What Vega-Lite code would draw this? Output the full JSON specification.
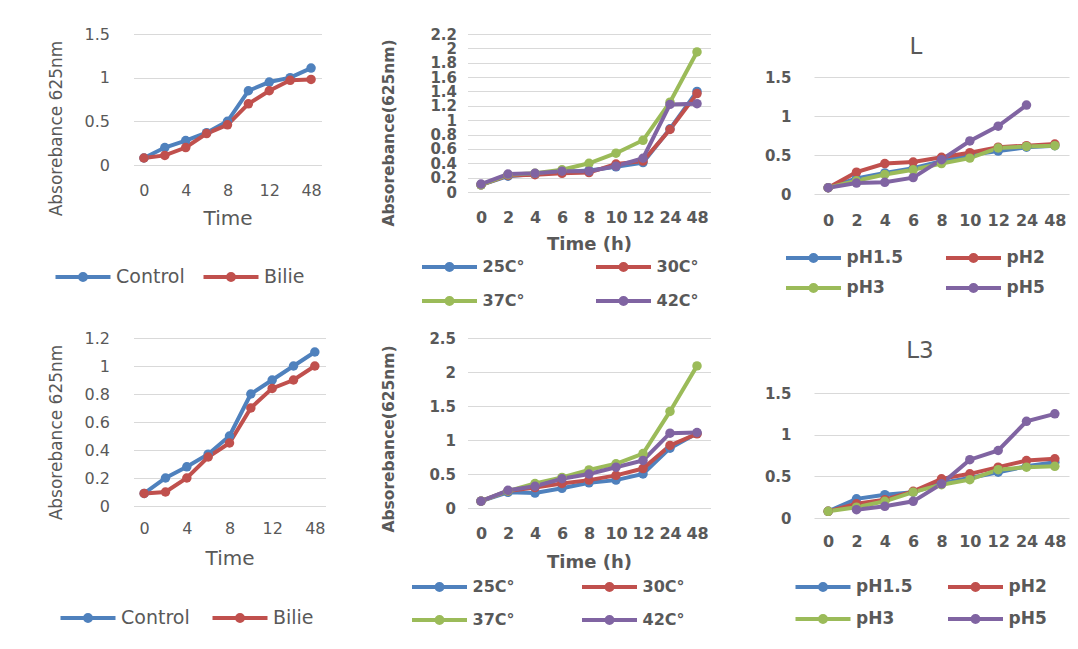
{
  "$schema": "https://vega.github.io/schema/vega-lite/v6.json",
  "padding": {"left": 46.5, "top": 26, "right": 0, "bottom": 0},
  "background": "white",
  "config": {
    "font": "DejaVu Sans",
    "view": {"stroke": null},
    "axis": {"domain": false, "ticks": false, "grid": false, "labelOverlap": false, "labelColor": "#595959", "titleColor": "#595959", "labelFont": "DejaVu Sans", "titleFont": "DejaVu Sans"},
    "axisY": {"grid": true, "gridColor": "#D9D9D9", "gridWidth": 1},
    "legend": {"padding": 0, "labelColor": "#595959", "labelFont": "DejaVu Sans", "symbolStrokeWidth": 4, "symbolSize": 400, "symbolType": "M -2.75 0 L 2.75 0 M -0.3 0 A 0.3 0.3 0 1 0 0.3 0 A 0.3 0.3 0 1 0 -0.3 0 M -0.1 0 A 0.1 0.1 0 1 0 0.1 0 A 0.1 0.1 0 1 0 -0.1 0", "labelOffset": 21}
  },
  "datasets": {
    "ctrlA": [
      {"t": "0", "s": "Control", "v": 0.08}, {"t": "2", "s": "Control", "v": 0.2}, {"t": "4", "s": "Control", "v": 0.28}, {"t": "6", "s": "Control", "v": 0.37}, {"t": "8", "s": "Control", "v": 0.5}, {"t": "10", "s": "Control", "v": 0.85}, {"t": "12", "s": "Control", "v": 0.95}, {"t": "24", "s": "Control", "v": 1.0}, {"t": "48", "s": "Control", "v": 1.11},
      {"t": "0", "s": "Bilie", "v": 0.08}, {"t": "2", "s": "Bilie", "v": 0.11}, {"t": "4", "s": "Bilie", "v": 0.2}, {"t": "6", "s": "Bilie", "v": 0.36}, {"t": "8", "s": "Bilie", "v": 0.46}, {"t": "10", "s": "Bilie", "v": 0.7}, {"t": "12", "s": "Bilie", "v": 0.85}, {"t": "24", "s": "Bilie", "v": 0.97}, {"t": "48", "s": "Bilie", "v": 0.98}
    ],
    "ctrlB": [
      {"t": "0", "s": "Control", "v": 0.09}, {"t": "2", "s": "Control", "v": 0.2}, {"t": "4", "s": "Control", "v": 0.28}, {"t": "6", "s": "Control", "v": 0.37}, {"t": "8", "s": "Control", "v": 0.5}, {"t": "10", "s": "Control", "v": 0.8}, {"t": "12", "s": "Control", "v": 0.9}, {"t": "24", "s": "Control", "v": 1.0}, {"t": "48", "s": "Control", "v": 1.1},
      {"t": "0", "s": "Bilie", "v": 0.09}, {"t": "2", "s": "Bilie", "v": 0.1}, {"t": "4", "s": "Bilie", "v": 0.2}, {"t": "6", "s": "Bilie", "v": 0.35}, {"t": "8", "s": "Bilie", "v": 0.45}, {"t": "10", "s": "Bilie", "v": 0.7}, {"t": "12", "s": "Bilie", "v": 0.84}, {"t": "24", "s": "Bilie", "v": 0.9}, {"t": "48", "s": "Bilie", "v": 1.0}
    ],
    "tempA": [
      {"t": "0", "s": "25C°", "v": 0.1}, {"t": "2", "s": "25C°", "v": 0.22}, {"t": "4", "s": "25C°", "v": 0.25}, {"t": "6", "s": "25C°", "v": 0.28}, {"t": "8", "s": "25C°", "v": 0.3}, {"t": "10", "s": "25C°", "v": 0.35}, {"t": "12", "s": "25C°", "v": 0.41}, {"t": "24", "s": "25C°", "v": 0.88}, {"t": "48", "s": "25C°", "v": 1.4},
      {"t": "0", "s": "30C°", "v": 0.1}, {"t": "2", "s": "30C°", "v": 0.23}, {"t": "4", "s": "30C°", "v": 0.24}, {"t": "6", "s": "30C°", "v": 0.26}, {"t": "8", "s": "30C°", "v": 0.27}, {"t": "10", "s": "30C°", "v": 0.39}, {"t": "12", "s": "30C°", "v": 0.43}, {"t": "24", "s": "30C°", "v": 0.87}, {"t": "48", "s": "30C°", "v": 1.37},
      {"t": "0", "s": "37C°", "v": 0.1}, {"t": "2", "s": "37C°", "v": 0.24}, {"t": "4", "s": "37C°", "v": 0.26}, {"t": "6", "s": "37C°", "v": 0.31}, {"t": "8", "s": "37C°", "v": 0.4}, {"t": "10", "s": "37C°", "v": 0.54}, {"t": "12", "s": "37C°", "v": 0.72}, {"t": "24", "s": "37C°", "v": 1.25}, {"t": "48", "s": "37C°", "v": 1.95},
      {"t": "0", "s": "42C°", "v": 0.11}, {"t": "2", "s": "42C°", "v": 0.25}, {"t": "4", "s": "42C°", "v": 0.26}, {"t": "6", "s": "42C°", "v": 0.29}, {"t": "8", "s": "42C°", "v": 0.29}, {"t": "10", "s": "42C°", "v": 0.36}, {"t": "12", "s": "42C°", "v": 0.47}, {"t": "24", "s": "42C°", "v": 1.22}, {"t": "48", "s": "42C°", "v": 1.23}
    ],
    "tempB": [
      {"t": "0", "s": "25C°", "v": 0.1}, {"t": "2", "s": "25C°", "v": 0.23}, {"t": "4", "s": "25C°", "v": 0.22}, {"t": "6", "s": "25C°", "v": 0.29}, {"t": "8", "s": "25C°", "v": 0.37}, {"t": "10", "s": "25C°", "v": 0.41}, {"t": "12", "s": "25C°", "v": 0.5}, {"t": "24", "s": "25C°", "v": 0.88}, {"t": "48", "s": "25C°", "v": 1.1},
      {"t": "0", "s": "30C°", "v": 0.1}, {"t": "2", "s": "30C°", "v": 0.25}, {"t": "4", "s": "30C°", "v": 0.3}, {"t": "6", "s": "30C°", "v": 0.36}, {"t": "8", "s": "30C°", "v": 0.41}, {"t": "10", "s": "30C°", "v": 0.48}, {"t": "12", "s": "30C°", "v": 0.58}, {"t": "24", "s": "30C°", "v": 0.92}, {"t": "48", "s": "30C°", "v": 1.09},
      {"t": "0", "s": "37C°", "v": 0.1}, {"t": "2", "s": "37C°", "v": 0.25}, {"t": "4", "s": "37C°", "v": 0.36}, {"t": "6", "s": "37C°", "v": 0.45}, {"t": "8", "s": "37C°", "v": 0.56}, {"t": "10", "s": "37C°", "v": 0.65}, {"t": "12", "s": "37C°", "v": 0.8}, {"t": "24", "s": "37C°", "v": 1.42}, {"t": "48", "s": "37C°", "v": 2.09},
      {"t": "0", "s": "42C°", "v": 0.1}, {"t": "2", "s": "42C°", "v": 0.26}, {"t": "4", "s": "42C°", "v": 0.32}, {"t": "6", "s": "42C°", "v": 0.43}, {"t": "8", "s": "42C°", "v": 0.5}, {"t": "10", "s": "42C°", "v": 0.6}, {"t": "12", "s": "42C°", "v": 0.7}, {"t": "24", "s": "42C°", "v": 1.1}, {"t": "48", "s": "42C°", "v": 1.11}
    ],
    "phA": [
      {"t": "0", "s": "pH1.5", "v": 0.08}, {"t": "2", "s": "pH1.5", "v": 0.2}, {"t": "4", "s": "pH1.5", "v": 0.27}, {"t": "6", "s": "pH1.5", "v": 0.33}, {"t": "8", "s": "pH1.5", "v": 0.42}, {"t": "10", "s": "pH1.5", "v": 0.5}, {"t": "12", "s": "pH1.5", "v": 0.55}, {"t": "24", "s": "pH1.5", "v": 0.6}, {"t": "48", "s": "pH1.5", "v": 0.62},
      {"t": "0", "s": "pH2", "v": 0.08}, {"t": "2", "s": "pH2", "v": 0.28}, {"t": "4", "s": "pH2", "v": 0.39}, {"t": "6", "s": "pH2", "v": 0.41}, {"t": "8", "s": "pH2", "v": 0.47}, {"t": "10", "s": "pH2", "v": 0.53}, {"t": "12", "s": "pH2", "v": 0.6}, {"t": "24", "s": "pH2", "v": 0.62}, {"t": "48", "s": "pH2", "v": 0.64},
      {"t": "0", "s": "pH3", "v": 0.08}, {"t": "2", "s": "pH3", "v": 0.17}, {"t": "4", "s": "pH3", "v": 0.25}, {"t": "6", "s": "pH3", "v": 0.31}, {"t": "8", "s": "pH3", "v": 0.39}, {"t": "10", "s": "pH3", "v": 0.46}, {"t": "12", "s": "pH3", "v": 0.59}, {"t": "24", "s": "pH3", "v": 0.61}, {"t": "48", "s": "pH3", "v": 0.62},
      {"t": "0", "s": "pH5", "v": 0.08}, {"t": "2", "s": "pH5", "v": 0.14}, {"t": "4", "s": "pH5", "v": 0.15}, {"t": "6", "s": "pH5", "v": 0.21}, {"t": "8", "s": "pH5", "v": 0.44}, {"t": "10", "s": "pH5", "v": 0.68}, {"t": "12", "s": "pH5", "v": 0.87}, {"t": "24", "s": "pH5", "v": 1.14}
    ],
    "phB": [
      {"t": "0", "s": "pH1.5", "v": 0.08}, {"t": "2", "s": "pH1.5", "v": 0.23}, {"t": "4", "s": "pH1.5", "v": 0.28}, {"t": "6", "s": "pH1.5", "v": 0.31}, {"t": "8", "s": "pH1.5", "v": 0.42}, {"t": "10", "s": "pH1.5", "v": 0.48}, {"t": "12", "s": "pH1.5", "v": 0.55}, {"t": "24", "s": "pH1.5", "v": 0.62}, {"t": "48", "s": "pH1.5", "v": 0.67},
      {"t": "0", "s": "pH2", "v": 0.08}, {"t": "2", "s": "pH2", "v": 0.17}, {"t": "4", "s": "pH2", "v": 0.22}, {"t": "6", "s": "pH2", "v": 0.32}, {"t": "8", "s": "pH2", "v": 0.47}, {"t": "10", "s": "pH2", "v": 0.53}, {"t": "12", "s": "pH2", "v": 0.61}, {"t": "24", "s": "pH2", "v": 0.69}, {"t": "48", "s": "pH2", "v": 0.71},
      {"t": "0", "s": "pH3", "v": 0.08}, {"t": "2", "s": "pH3", "v": 0.13}, {"t": "4", "s": "pH3", "v": 0.2}, {"t": "6", "s": "pH3", "v": 0.31}, {"t": "8", "s": "pH3", "v": 0.4}, {"t": "10", "s": "pH3", "v": 0.46}, {"t": "12", "s": "pH3", "v": 0.58}, {"t": "24", "s": "pH3", "v": 0.61}, {"t": "48", "s": "pH3", "v": 0.62},
      {"t": "2", "s": "pH5", "v": 0.1}, {"t": "4", "s": "pH5", "v": 0.14}, {"t": "6", "s": "pH5", "v": 0.2}, {"t": "8", "s": "pH5", "v": 0.41}, {"t": "10", "s": "pH5", "v": 0.7}, {"t": "12", "s": "pH5", "v": 0.81}, {"t": "24", "s": "pH5", "v": 1.16}, {"t": "48", "s": "pH5", "v": 1.25}
    ]
  },
  "hconcat": [
    {
      "vconcat": [
        {
          "width": 188, "height": 131,
          "data": {"name": "ctrlA"},
          "mark": {"type": "line", "strokeWidth": 4, "point": {"filled": true, "size": 90}},
          "encoding": {
            "x": {"field": "t", "type": "ordinal", "sort": ["0","2","4","6","8","10","12","24","48"], "scale": {"type": "point", "padding": 0.5},
                  "axis": {"values": ["0","4","8","12","48"], "labelAngle": 0, "labelFontSize": 16, "labelPadding": 17, "title": "Time", "titleFontSize": 20, "titleFontWeight": "normal", "titlePadding": 10}},
            "y": {"field": "v", "type": "quantitative", "scale": {"domain": [0, 1.5], "nice": false},
                  "axis": {"values": [0, 0.5, 1, 1.5], "format": "~g", "labelFontSize": 16, "labelPadding": 24, "title": "Absorebance 625nm", "titleFontSize": 17, "titleFontWeight": "normal", "titlePadding": 19, "titleY": 94}},
            "color": {"field": "s", "type": "nominal", "scale": {"domain": ["Control", "Bilie"], "range": ["#4F81BD", "#C0504D"]},
                      "legend": {"title": null, "orient": "none", "legendX": -62.5, "legendY": 231, "direction": "horizontal", "columns": 2, "columnPadding": 10, "labelFontSize": 19}}
          }
        },
        {
          "width": 192, "height": 168,
          "data": {"name": "ctrlB"},
          "mark": {"type": "line", "strokeWidth": 4, "point": {"filled": true, "size": 90}},
          "encoding": {
            "x": {"field": "t", "type": "ordinal", "sort": ["0","2","4","6","8","10","12","24","48"], "scale": {"type": "point", "padding": 0.5},
                  "axis": {"values": ["0","4","8","12","48"], "labelAngle": 0, "labelFontSize": 16, "labelPadding": 14, "title": "Time", "titleFontSize": 20, "titleFontWeight": "normal", "titlePadding": 12}},
            "y": {"field": "v", "type": "quantitative", "scale": {"domain": [0, 1.2], "nice": false},
                  "axis": {"values": [0, 0.2, 0.4, 0.6, 0.8, 1, 1.2], "format": "~g", "labelFontSize": 16, "labelPadding": 24, "title": "Absorebance 625nm", "titleFontSize": 17, "titleFontWeight": "normal", "titlePadding": 19, "titleY": 94}},
            "color": {"field": "s", "type": "nominal", "scale": {"domain": ["Control", "Bilie"], "range": ["#4F81BD", "#C0504D"]},
                      "legend": {"title": null, "orient": "none", "legendX": -57.5, "legendY": 268, "direction": "horizontal", "columns": 2, "columnPadding": 14, "labelFontSize": 19}}
          }
        }
      ],
      "spacing": 42,
      "resolve": {"scale": {"color": "independent", "x": "independent", "y": "independent"}, "legend": {"color": "independent"}}
    },
    {
      "hconcat": [
        {
          "vconcat": [
            {
              "width": 243, "height": 158,
              "data": {"name": "tempA"},
              "mark": {"type": "line", "strokeWidth": 4, "point": {"filled": true, "size": 90}},
              "encoding": {
                "x": {"field": "t", "type": "ordinal", "sort": ["0","2","4","6","8","10","12","24","48"], "scale": {"type": "point", "padding": 0.5},
                      "axis": {"labelAngle": 0, "labelFontSize": 16, "labelFontWeight": "bold", "labelPadding": 17, "title": "Time (h)", "titleFontSize": 18, "titleFontWeight": "bold", "titlePadding": 10}},
                "y": {"field": "v", "type": "quantitative", "scale": {"domain": [0, 2.2], "nice": false},
                      "axis": {"values": [0, 0.2, 0.4, 0.6, 0.8, 1, 1.2, 1.4, 1.6, 1.8, 2, 2.2], "format": "~g", "labelFontSize": 15, "labelFontWeight": "bold", "labelPadding": 11, "title": "Absorebance(625nm)", "titleFontSize": 15.5, "titleFontWeight": "bold", "titlePadding": 33, "titleY": 98.5}},
                "color": {"field": "s", "type": "nominal", "scale": {"domain": ["25C°", "30C°", "37C°", "42C°"], "range": ["#4F81BD", "#C0504D", "#9BBB59", "#8064A2"]},
                          "legend": {"title": null, "orient": "none", "legendX": -30, "legendY": 221, "direction": "horizontal", "columns": 2, "columnPadding": 62, "rowPadding": 11, "labelFontSize": 16, "labelFontWeight": "bold"}}
              }
            },
            {
              "width": 243, "height": 170,
              "data": {"name": "tempB"},
              "mark": {"type": "line", "strokeWidth": 4, "point": {"filled": true, "size": 90}},
              "encoding": {
                "x": {"field": "t", "type": "ordinal", "sort": ["0","2","4","6","8","10","12","24","48"], "scale": {"type": "point", "padding": 0.5},
                      "axis": {"labelAngle": 0, "labelFontSize": 16, "labelFontWeight": "bold", "labelPadding": 17, "title": "Time (h)", "titleFontSize": 18, "titleFontWeight": "bold", "titlePadding": 12}},
                "y": {"field": "v", "type": "quantitative", "scale": {"domain": [0, 2.5], "nice": false},
                      "axis": {"values": [0, 0.5, 1, 1.5, 2, 2.5], "format": "~g", "labelFontSize": 15, "labelFontWeight": "bold", "labelPadding": 12, "title": "Absorebance(625nm)", "titleFontSize": 15.5, "titleFontWeight": "bold", "titlePadding": 32, "titleY": 100.5}},
                "color": {"field": "s", "type": "nominal", "scale": {"domain": ["25C°", "30C°", "37C°", "42C°"], "range": ["#4F81BD", "#C0504D", "#9BBB59", "#8064A2"]},
                          "legend": {"title": null, "orient": "none", "legendX": -40, "legendY": 237, "direction": "horizontal", "columns": 2, "columnPadding": 58, "rowPadding": 10, "labelFontSize": 16, "labelFontWeight": "bold"}}
              }
            }
          ],
          "spacing": 19,
          "resolve": {"scale": {"color": "independent", "x": "independent", "y": "independent"}, "legend": {"color": "independent"}}
        },
        {
          "vconcat": [
            {
              "width": 255, "height": 160,
              "data": {"name": "phA"},
              "title": {"text": "L", "fontSize": 23, "fontWeight": "normal", "color": "#595959", "offset": -48, "dx": -25.5, "baseline": "bottom"},
              "mark": {"type": "line", "strokeWidth": 4, "point": {"filled": true, "size": 90}},
              "encoding": {
                "x": {"field": "t", "type": "ordinal", "sort": ["0","2","4","6","8","10","12","24","48"], "scale": {"type": "point", "padding": 0.5},
                      "axis": {"labelAngle": 0, "labelFontSize": 16, "labelFontWeight": "bold", "labelPadding": 18, "title": null}},
                "y": {"field": "v", "type": "quantitative", "scale": {"domain": [0, 1.5], "nice": false, "range": [160, 43]},
                      "axis": {"values": [0, 0.5, 1, 1.5], "format": "~g", "labelFontSize": 15, "labelFontWeight": "bold", "labelPadding": 23, "title": null}},
                "color": {"field": "s", "type": "nominal", "scale": {"domain": ["pH1.5", "pH2", "pH3", "pH5"], "range": ["#4F81BD", "#C0504D", "#9BBB59", "#8064A2"]},
                          "legend": {"title": null, "orient": "none", "legendX": -12.5, "legendY": 212, "direction": "horizontal", "columns": 2, "columnPadding": 34, "rowPadding": 7, "labelFontSize": 17, "labelFontWeight": "bold"}}
              }
            },
            {
              "width": 255, "height": 180,
              "data": {"name": "phB"},
              "title": {"text": "L3", "fontSize": 23, "fontWeight": "normal", "color": "#595959", "offset": -48, "dx": -21.5, "baseline": "bottom"},
              "mark": {"type": "line", "strokeWidth": 4, "point": {"filled": true, "size": 90}},
              "encoding": {
                "x": {"field": "t", "type": "ordinal", "sort": ["0","2","4","6","8","10","12","24","48"], "scale": {"type": "point", "padding": 0.5},
                      "axis": {"labelAngle": 0, "labelFontSize": 16, "labelFontWeight": "bold", "labelPadding": 15, "title": null}},
                "y": {"field": "v", "type": "quantitative", "scale": {"domain": [0, 1.5], "nice": false, "range": [180, 55]},
                      "axis": {"values": [0, 0.5, 1, 1.5], "format": "~g", "labelFontSize": 15, "labelFontWeight": "bold", "labelPadding": 23, "title": null}},
                "color": {"field": "s", "type": "nominal", "scale": {"domain": ["pH1.5", "pH2", "pH3", "pH5"], "range": ["#4F81BD", "#C0504D", "#9BBB59", "#8064A2"]},
                          "legend": {"title": null, "orient": "none", "legendX": -3, "legendY": 237, "direction": "horizontal", "columns": 2, "columnPadding": 26.5, "rowPadding": 9, "labelFontSize": 17, "labelFontWeight": "bold"}}
              }
            }
          ],
          "spacing": 39,
          "resolve": {"scale": {"color": "independent", "x": "independent", "y": "independent"}, "legend": {"color": "independent"}}
        }
      ],
      "spacing": 53.5,
      "resolve": {"scale": {"color": "independent", "x": "independent", "y": "independent"}, "legend": {"color": "independent"}}
    }
  ],
  "spacing": 56,
  "resolve": {"scale": {"color": "independent", "x": "independent", "y": "independent"}, "legend": {"color": "independent"}}
}
